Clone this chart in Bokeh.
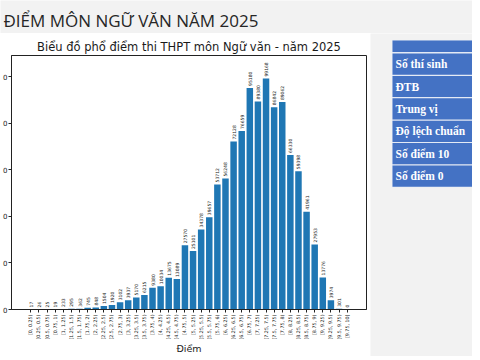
import math
from bokeh.plotting import figure
from bokeh.layouts import column, row
from bokeh.models import Range1d, FixedTicker, ColumnDataSource
from bokeh.core.properties import value
from bokeh.embed import file_html
from bokeh.resources import INLINE

page_title = "ĐIỂM MÔN NGỮ VĂN NĂM 2025"
chart_title = "Biểu đồ phổ điểm thi THPT môn Ngữ văn - năm 2025"
x_label = "Điểm"

bins = [
    "[0, 0.25)", "[0.25, 0.5)", "[0.5, 0.75)", "[0.75, 1)",
    "[1, 1.25)", "[1.25, 1.5)", "[1.5, 1.75)", "[1.75, 2)",
    "[2, 2.25)", "[2.25, 2.5)", "[2.5, 2.75)", "[2.75, 3)",
    "[3, 3.25)", "[3.25, 3.5)", "[3.5, 3.75)", "[3.75, 4)",
    "[4, 4.25)", "[4.25, 4.5)", "[4.5, 4.75)", "[4.75, 5)",
    "[5, 5.25)", "[5.25, 5.5)", "[5.5, 5.75)", "[5.75, 6)",
    "[6, 6.25)", "[6.25, 6.5)", "[6.5, 6.75)", "[6.75, 7)",
    "[7, 7.25)", "[7.25, 7.5)", "[7.5, 7.75)", "[7.75, 8)",
    "[8, 8.25)", "[8.25, 8.5)", "[8.5, 8.75)", "[8.75, 9)",
    "[9, 9.25)", "[9.25, 9.5)", "[9.5, 9.75)", "[9.75, 10]",
]
counts = [
    17, 26, 25, 19, 233, 295, 362, 745,
    848, 1504, 1920, 3102, 3937, 5170, 6215, 9380,
    10034, 13675, 13089, 27570, 25101, 34378, 39657, 53712,
    56248, 72128, 76659, 95180, 89380, 99168, 86842, 89062,
    66330, 59398, 41961, 27953, 13776, 3974, 301, 0,
]
y_ticks = [0, 20000, 40000, 60000, 80000, 100000]
y_tick_text = "0"  # only the last digit of each tick label is visible in the screenshot
table_rows = ["Số thí sinh", "ĐTB", "Trung vị", "Độ lệch chuẩn", "Số điểm 10", "Số điểm 0"]

GRAY = "#f2f2f2"
BLUE = "#4472c4"
BAR = "#1f77b4"
INK = "#222222"

# ---- slide title strip ----
tf = figure(width=472, height=33, x_range=Range1d(0, 472), y_range=Range1d(33, 0),
            x_axis_location=None, y_axis_location=None, output_backend="svg",
            toolbar_location=None, min_border=0, outline_line_color=None,
            background_fill_color=GRAY, border_fill_color=GRAY)
tf.frame_align = False
tf.grid.visible = False
tf.text(x=[3], y=[20], text=[page_title], text_font=value("Open Sans"),
        text_font_size="17px", text_color="#262626", text_baseline="middle",
        text_align="left")

# ---- histogram chart ----
n = len(bins)
src = ColumnDataSource(dict(x=list(range(n)), count=counts,
                            label=[str(c) for c in counts], bin=bins))
cf = figure(width=370, height=323, title=chart_title,
            x_range=Range1d(-0.4 - 0.05 * (n - 0.2), (n - 1) + 0.4 + 0.05 * (n - 0.2)),
            y_range=Range1d(0, max(counts) * 1.1),
            output_backend="svg", toolbar_location=None,
            min_border_left=8, min_border_right=4, min_border_top=22, min_border_bottom=47,
            background_fill_color="white", border_fill_color="white",
            outline_line_color=INK, outline_line_width=1)
cf.frame_align = False
cf.vbar(x="x", top="count", width=0.8, source=src, fill_color=BAR, line_color=None)
cf.text(x="x", y="count", text="label", source=src, angle=math.pi / 2,
        text_align="left", text_baseline="middle", y_offset=-2,
        text_font=value("DejaVu Sans"), text_font_size="4.5px", text_color=INK)

cf.title.align = "center"
cf.title.text_font = "DejaVu Sans"
cf.title.text_font_size = "11.5px"
cf.title.text_font_style = "normal"
cf.title.text_color = "#1a1a1a"
cf.title.standoff = 4

cf.grid.visible = False
cf.axis.minor_tick_line_color = None
cf.axis.major_tick_in = 0
cf.axis.major_tick_out = 3
cf.axis.axis_line_color = INK
cf.axis.major_tick_line_color = INK
cf.axis.major_label_text_color = INK
cf.axis.major_label_text_font = "DejaVu Sans"

cf.xaxis.ticker = FixedTicker(ticks=list(range(n)))
cf.xaxis.major_label_overrides = {i: b for i, b in enumerate(bins)}
cf.xaxis.major_label_orientation = math.pi / 2
cf.xaxis.major_label_text_font_size = "4.8px"
cf.xaxis.major_label_standoff = 2
cf.xaxis.axis_label = x_label
cf.xaxis.axis_label_text_font = "DejaVu Sans"
cf.xaxis.axis_label_text_font_size = "9.5px"
cf.xaxis.axis_label_text_font_style = "normal"
cf.xaxis.axis_label_text_color = INK
cf.xaxis.axis_label_standoff = 0

cf.yaxis.ticker = FixedTicker(ticks=y_ticks)
cf.yaxis.major_label_overrides = {t: y_tick_text for t in y_ticks}
cf.yaxis.major_label_text_font_size = "7px"
cf.yaxis.major_label_standoff = 1

# ---- right-hand info table ----
tb = figure(width=102, height=323, x_range=Range1d(0, 102), y_range=Range1d(323, 0),
            x_axis_location=None, y_axis_location=None, output_backend="svg",
            toolbar_location=None, min_border=0, outline_line_color=None,
            background_fill_color=GRAY, border_fill_color=GRAY)
tb.frame_align = False
tb.grid.visible = False
row_top0, row_pitch, row_h = 20, 22.4, 21.2
tops = [row_top0 + row_pitch * i for i in range(len(table_rows))]
bottoms = [t + row_h for t in tops]
centers = [t + row_h / 2 for t in tops]
tb.quad(left=[21.5], right=[110], top=[6.5], bottom=[bottoms[-1] + 0.5],
        fill_color="#e4eaf5", line_color=None)
tb.quad(left=[22], right=[110], top=[7], bottom=[18.5], fill_color=BLUE, line_color=None)
tb.quad(left=[22] * len(tops), right=[110] * len(tops), top=tops, bottom=bottoms,
        fill_color=BLUE, line_color=None)
tb.text(x=[25] * len(table_rows), y=centers, text=table_rows,
        text_font=value("Liberation Serif"), text_font_style="bold",
        text_font_size="11.5px", text_color="white", text_baseline="middle",
        text_align="left")

layout = column(tf, row(cf, tb, spacing=0), spacing=0)

open("out.html", "w").write(file_html(layout, INLINE))
